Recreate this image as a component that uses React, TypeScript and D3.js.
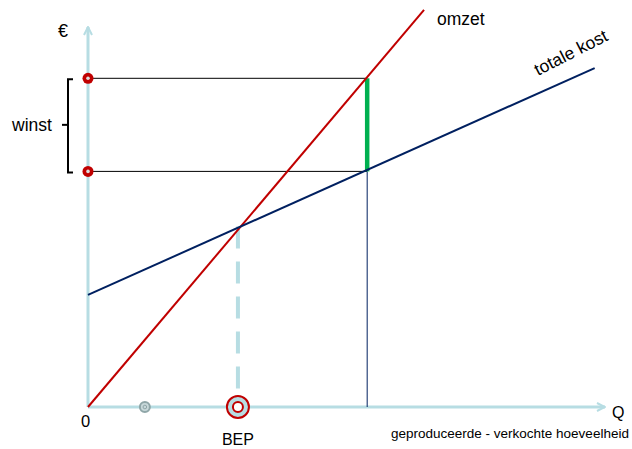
import React from 'react';
import * as d3 from 'd3';

const W = 632;
const H = 449;

// Q and € in arbitrary units
const omzetLine: [number, number][] = [[0, 0], [65, 104.5]];
const kostLine: [number, number][] = [[0, 29.5], [98, 89.2]];
const bepQ = 29;
const bepValue = 47.5;
const winstQ = 54;
const omzetAtQ = 86.5;
const kostAtQ = 62;
const grayMarkQ = 11;

const AXIS = '#b7dde3';
const RED = '#c00000';
const NAVY = '#002060';
const GREEN = '#00b050';
const FONT = 'Liberation Sans, Arial, sans-serif';

export default function App() {
  const x = d3.scaleLinear().domain([0, 100]).range([88, 605]);
  const y = d3.scaleLinear().domain([0, 100]).range([407, 27]);
  const line = d3.line<[number, number]>().x(d => x(d[0])).y(d => y(d[1]));

  const yTop = y(omzetAtQ);
  const yBot = y(kostAtQ);
  const yMid = (yTop + yBot) / 2;

  return (
    <svg width={W} height={H} style={{ position: 'absolute', left: 0, top: 0, background: '#fff' }}>
      <defs>
        <marker id="arr" viewBox="0 0 10 10" refX="9" refY="5" markerWidth="10" markerHeight="10"
          markerUnits="userSpaceOnUse" orient="auto">
          <path d="M1,1 L9,5 L1,9" fill="none" stroke={AXIS} strokeWidth={2} />
        </marker>
      </defs>

      {/* axes */}
      <line x1={x(0)} y1={y(0)} x2={x(0)} y2={27} stroke={AXIS} strokeWidth={3} markerEnd="url(#arr)" />
      <line x1={x(0)} y1={y(0)} x2={605} y2={y(0)} stroke={AXIS} strokeWidth={3} markerEnd="url(#arr)" />

      {/* BEP dashed drop line */}
      <line x1={x(bepQ)} y1={y(bepValue)} x2={x(bepQ)} y2={y(0)} stroke={AXIS} strokeWidth={4}
        strokeDasharray="22 13" />

      {/* winst guides */}
      <line x1={x(0)} y1={yTop} x2={x(winstQ)} y2={yTop} stroke="#000" strokeWidth={1} />
      <line x1={x(0)} y1={yBot} x2={x(winstQ)} y2={yBot} stroke="#000" strokeWidth={1} />
      <line x1={x(winstQ)} y1={yBot} x2={x(winstQ)} y2={y(0)} stroke={NAVY} strokeWidth={1} />
      <line x1={x(winstQ)} y1={yTop} x2={x(winstQ)} y2={yBot} stroke={GREEN} strokeWidth={4.5} />

      {/* lines */}
      <path d={line(omzetLine) ?? ''} fill="none" stroke={RED} strokeWidth={2} />
      <path d={line(kostLine) ?? ''} fill="none" stroke={NAVY} strokeWidth={2} />

      {/* markers on y axis */}
      {[yTop, yBot].map((cy, i) => (
        <g key={i}>
          <circle cx={x(0)} cy={cy} r={5.5} fill={RED} />
          <circle cx={x(0)} cy={cy} r={1.8} fill="#ddd" />
        </g>
      ))}

      {/* bracket */}
      <path d={`M73,${yTop + 1} H68 V${yBot + 1} H73`} fill="none" stroke="#000" strokeWidth={2} />
      <line x1={62} y1={yMid} x2={68} y2={yMid} stroke="#000" strokeWidth={2} />
      <text x={12} y={yMid + 6} fontFamily={FONT} fontSize={17.5} fill="#000">winst</text>

      {/* markers on x axis */}
      <circle cx={x(grayMarkQ)} cy={y(0)} r={5} fill="#c8d8da" stroke="#8fa6a8" strokeWidth={2} />
      <circle cx={x(grayMarkQ)} cy={y(0)} r={1.8} fill="none" stroke="#8fa6a8" strokeWidth={1} />
      <circle cx={x(bepQ)} cy={y(0)} r={11} fill={AXIS} stroke={RED} strokeWidth={2} />
      <circle cx={x(bepQ)} cy={y(0)} r={5} fill="#fff" stroke={RED} strokeWidth={2} />

      {/* labels */}
      <text x={58} y={37} fontFamily={FONT} fontSize={18} fill="#000">€</text>
      <text x={81} y={427} fontFamily={FONT} fontSize={16.5} fill="#000">0</text>
      <text x={x(bepQ)} y={445} textAnchor="middle" fontFamily={FONT} fontSize={16} fill="#000">BEP</text>
      <text x={612} y={418} fontFamily={FONT} fontSize={16} fill="#000">Q</text>
      <text x={391} y={438} fontFamily={FONT} fontSize={13.5} fill="#000">geproduceerde - verkochte hoeveelheid</text>
      <text x={437} y={25} fontFamily={FONT} fontSize={17.5} fill="#000">omzet</text>
      <text x={538} y={76} transform="rotate(-27 538 76)" fontFamily={FONT} fontSize={17.5} fill="#000">totale kost</text>
    </svg>
  );
}
